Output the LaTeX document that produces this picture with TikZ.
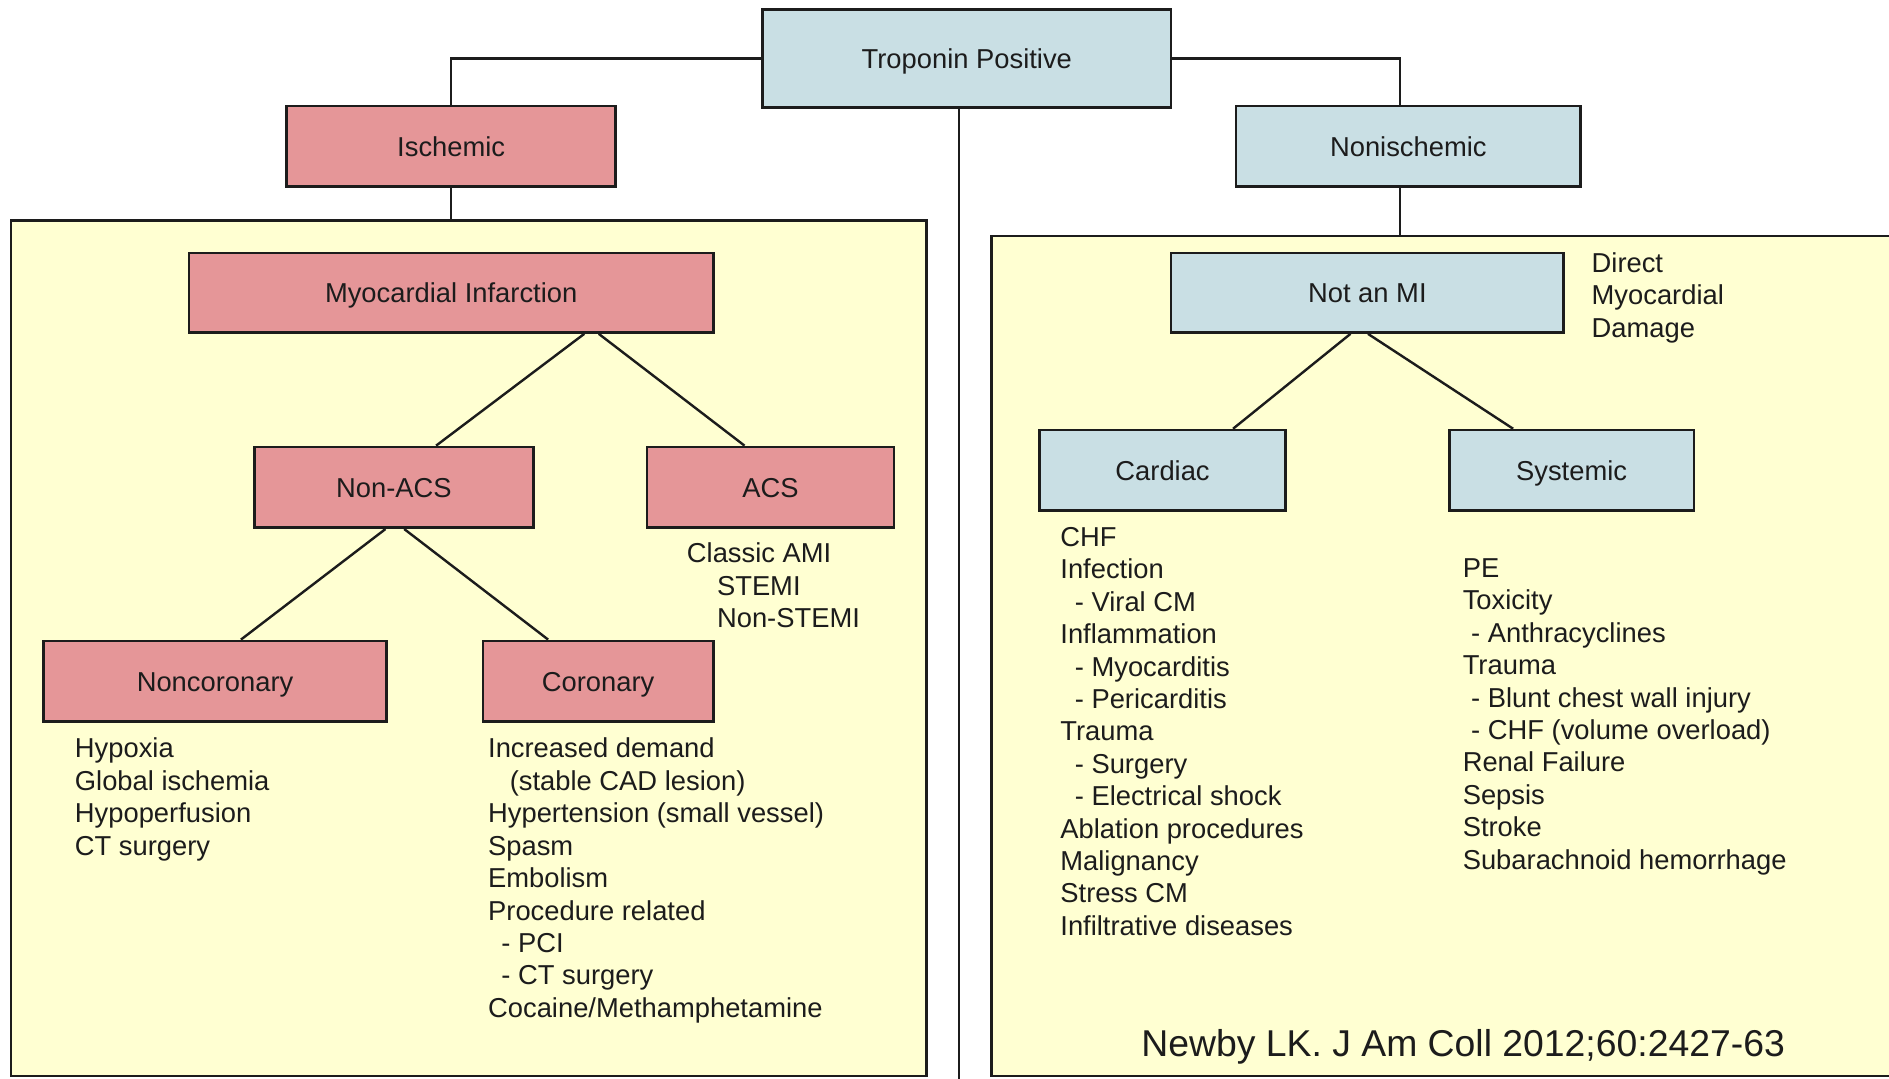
\documentclass[tikz,border=0pt]{standalone}
\usepackage{fontspec}
\setmainfont{Liberation Sans}
\usepackage{xcolor}
\usetikzlibrary{positioning}

\definecolor{ischred}{RGB}{229,150,152}
\definecolor{nonblue}{RGB}{201,223,228}
\definecolor{panelyel}{RGB}{255,255,210}
\definecolor{ink}{RGB}{28,28,28}

\begin{document}
\begin{tikzpicture}[
  x=1pt,y=-1pt,
  font=\fontsize{22.7}{26.9}\selectfont,text=ink,
  b/.style={rectangle,draw=ink,line width=2.2pt,inner sep=0pt,minimum height=67,text height=16.5pt,text depth=0pt},
  rd/.style={b,fill=ischred}, bl/.style={b,fill=nonblue},
  pn/.style={rectangle,draw=ink,line width=2pt,fill=panelyel,inner sep=0pt},
  ln/.style={draw=ink,line width=2pt},
  lst/.style={anchor=north west,align=left,inner sep=0pt}
]
\useasboundingbox (0,0) rectangle (1568,895);
\clip (0,0) rectangle (1568,895);
\fill[white] (0,0) rectangle (1568,895);

% panels
\node[pn,minimum width=760,minimum height=710] (lpan) at (389,538) {};
\node[pn,minimum width=777,minimum height=697] (rpan) at (1211.5,544.5) {};

% top row
\node[bl,minimum width=339,minimum height=81] (trop) at (802.5,48.5) {Troponin Positive};
\node[rd,minimum width=273] (isch) at (374.5,121.5) {Ischemic};
\node[bl,minimum width=286] (nonisch) at (1169,121.5) {Nonischemic};

% ischemic side
\node[rd,minimum width=435,minimum height=66] (mi) at (374.5,243) {Myocardial Infarction};
\node[rd,minimum width=232] (nonacs) at (327,404.5) {Non-ACS};
\node[rd,minimum width=205] (acs) at (639.5,404.5) {ACS};
\node[rd,minimum width=285] (noncor) at (178.5,565.5) {Noncoronary};
\node[rd,minimum width=191] (cor) at (496.5,565.5) {Coronary};

\node[lst] (acslst) at (570,450.5) {Classic AMI\\\hspace*{25pt}STEMI\\\hspace*{25pt}Non-STEMI};
\node[lst] (noncorlst) at (62,612.5) {Hypoxia\\Global ischemia\\Hypoperfusion\\CT surgery};
\node[lst] (corlst) at (405,612.5) {Increased demand\\\hspace*{18pt}(stable CAD lesion)\\Hypertension (small vessel)\\Spasm\\Embolism\\Procedure related\\\hspace*{11pt}- PCI\\\hspace*{11pt}- CT surgery\\Cocaine/Methamphetamine};

% nonischemic side
\node[bl,minimum width=326,minimum height=66] (notmi) at (1135,243) {Not an MI};
\node[lst] (dmd) at (1321,209.5) {Direct\\Myocardial\\Damage};
\node[bl,minimum width=204] (card) at (965,390.5) {Cardiac};
\node[bl,minimum width=203] (sys) at (1304.5,390.5) {Systemic};

\node[lst] (cardlst) at (880,437.5) {CHF\\Infection\\\hspace*{12pt}- Viral CM\\Inflammation\\\hspace*{12pt}- Myocarditis\\\hspace*{12pt}- Pericarditis\\Trauma\\\hspace*{12pt}- Surgery\\\hspace*{12pt}- Electrical shock\\Ablation procedures\\Malignancy\\Stress CM\\Infiltrative diseases};
\node[lst] (syslst) at (1214,463.5) {PE\\Toxicity\\\hspace*{7pt}- Anthracyclines\\Trauma\\\hspace*{7pt}- Blunt chest wall injury\\\hspace*{7pt}- CHF (volume overload)\\Renal Failure\\Sepsis\\Stroke\\Subarachnoid hemorrhage};

\node[font=\fontsize{31}{36}\selectfont,inner sep=0pt,text height=22.5pt,text depth=0pt] (cite) at (1214.5,866) {Newby LK. J Am Coll 2012;60:2427-63};

% connectors
\coordinate (bot) at (796,897);
\coordinate (nj) at ([xshift=-7]nonisch.south);
\draw[ln] (trop.west) -| (isch.north);
\draw[ln] (trop.east) -| ([xshift=-7]nonisch.north);
\draw[ln] ([xshift=-6.5]trop.south) -- (bot);
\draw[ln] (isch.south) -- (isch.south |- lpan.north);
\draw[ln] (nj) -- (nj |- rpan.north);
\draw[ln] ([xshift=110.5]mi.south) -- ([xshift=35]nonacs.north);
\draw[ln] ([xshift=122.5]mi.south) -- ([xshift=-21.5]acs.north);
\draw[ln] ([xshift=-7]nonacs.south) -- ([xshift=21.5]noncor.north);
\draw[ln] ([xshift=8.5]nonacs.south) -- ([xshift=-41.5]cor.north);
\draw[ln] ([xshift=-14]notmi.south) -- ([xshift=58.5]card.north);
\draw[ln] ([xshift=0.5]notmi.south) -- ([xshift=-48.5]sys.north);
\end{tikzpicture}
\end{document}
